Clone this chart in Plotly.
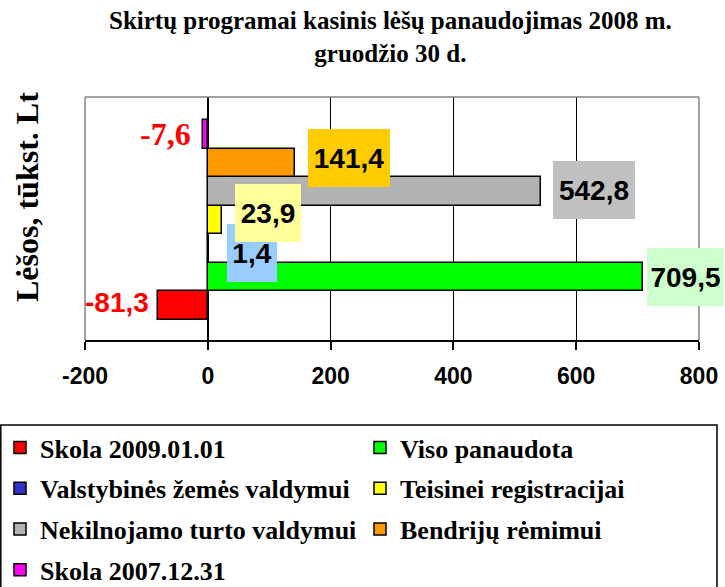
import plotly.graph_objects as go

series = ["Skola 2009.01.01", "Viso panaudota", "Valstybinės žemės valdymui",
          "Teisinei registracijai", "Nekilnojamo turto valdymui", "Bendrijų rėmimui",
          "Skola 2007.12.31"]
values = [-81.3, 709.5, 1.4, 23.9, 542.8, 141.4, -7.6]
labels = ["-81,3", "709,5", "1,4", "23,9", "542,8", "141,4", "-7,6"]
bar_colors = ["#FF0000", "#00FF00", "#3333CC", "#FFFF00", "#B2B2B2", "#FF9900", "#FF00FF"]
label_bg = [None, "#CCFFCC", "#99CCFF", "#FFFF99", "#C0C0C0", "#FFCC00", None]
legend_column = ["legend", "legend2", "legend", "legend2", "legend", "legend2", "legend"]
xticks = [-200, 0, 200, 400, 600, 800]

SERIF = "Liberation Serif"
SANS = "Liberation Sans"

# pixel layout helpers (plot area: x 85..699, y 97..340)
PL, PR, PT, PB = 85, 699, 97, 340
PW, PH = PR - PL, PB - PT


def px_x(p):
    return (p - PL) / PW


def px_y(p):
    return (PB - p) / PH


fig = go.Figure()
for name, v, c, lg in zip(series, values, bar_colors, legend_column):
    fig.add_trace(go.Bar(
        y=[name], x=[v], orientation="h", name=name,
        legend=lg, legendgroup=name,
        marker=dict(color=c, line=dict(color="black", width=1.5)),
        hoverinfo="skip",
    ))

label_geom = {
    "-81,3": dict(xshift=-8, yshift=3),
    "-7,6": dict(xshift=-11, yshift=0),
    "709,5": dict(xshift=4, yshift=0, w=77, h=58),
    "1,4": dict(xshift=18, yshift=-4, w=50, h=58),
    "23,9": dict(xshift=13, yshift=7, w=66, h=58),
    "542,8": dict(xshift=12, yshift=1, w=82, h=58),
    "141,4": dict(xshift=13, yshift=5, w=82, h=58),
}
ann = []
order = [0, 6, 1, 2, 3, 4, 5]
for i in order:
    lab = labels[i]
    g = label_geom[lab]
    if label_bg[i] is None:
        fnt = dict(family=SERIF if lab == "-7,6" else SANS,
                   size=32 if lab == "-7,6" else 28, color="#FF0000", weight="bold")
        ann.append(dict(x=values[i], y=series[i], xref="x", yref="y", text=lab,
                        showarrow=False, xanchor="right", yanchor="middle",
                        xshift=g["xshift"], yshift=g["yshift"], font=fnt, borderpad=0))
    else:
        ann.append(dict(x=values[i], y=series[i], xref="x", yref="y", text=lab,
                        showarrow=False, xanchor="left", yanchor="middle",
                        xshift=g["xshift"], yshift=g["yshift"],
                        width=g["w"], height=g["h"], bgcolor=label_bg[i],
                        borderpad=0, borderwidth=0, align="center", valign="middle",
                        font=dict(family=SANS, size=28, color="black", weight="bold")))

# chart title
ann.append(dict(text="Skirtų programai kasinis lėšų panaudojimas 2008 m.<br>gruodžio 30 d.",
                xref="paper", yref="paper", x=px_x(390), y=px_y(5),
                xanchor="center", yanchor="top", showarrow=False, align="center",
                font=dict(family=SERIF, size=25, color="black", weight="bold")))
# y-axis title
ann.append(dict(text="Lėšos, tūkst. Lt", xref="paper", yref="paper",
                x=px_x(27), y=px_y(197), xanchor="center", yanchor="middle",
                textangle=-90, showarrow=False,
                font=dict(family=SERIF, size=32, color="black", weight="bold")))

shapes = [
    dict(type="line", xref="paper", yref="paper", x0=0, x1=1, y0=1, y1=1,
         line=dict(color="#808080", width=1.5), layer="above"),
    dict(type="line", xref="paper", yref="paper", x0=0, x1=0, y0=0, y1=1,
         line=dict(color="#808080", width=1.5), layer="above"),
    dict(type="line", xref="paper", yref="paper", x0=1, x1=1, y0=0, y1=1,
         line=dict(color="#808080", width=1.5), layer="above"),
    # legend frame
    dict(type="rect", xref="paper", yref="paper",
         x0=px_x(0.8), x1=px_x(717), y0=px_y(620), y1=px_y(425),
         line=dict(color="black", width=1.5), layer="above"),
]

leg_common = dict(orientation="v", yanchor="top", xanchor="left",
                  traceorder="grouped", tracegroupgap=4,
                  font=dict(family=SERIF, size=26, color="black", weight="bold"),
                  bgcolor="rgba(0,0,0,0)", borderwidth=0, itemclick=False)

fig.update_layout(
    width=725, height=587,
    margin=dict(l=PL, r=725 - PR, t=PT, b=587 - PB, pad=0, autoexpand=False),
    paper_bgcolor="white", plot_bgcolor="white",
    barmode="group", bargap=0,
    showlegend=True,
    xaxis=dict(range=[-200, 800], tickvals=xticks, ticktext=[str(t) for t in xticks],
               showgrid=True, gridcolor="black", gridwidth=1,
               zeroline=True, zerolinecolor="black", zerolinewidth=2,
               showline=True, linecolor="black", linewidth=1.5,
               ticks="outside", ticklen=8, tickwidth=1.5, tickcolor="black",
               ticklabelstandoff=7,
               tickfont=dict(family=SANS, size=23, color="black", weight="bold"),
               fixedrange=True),
    yaxis=dict(type="category", categoryorder="array", categoryarray=series,
               range=[-1.2, 7.305], showticklabels=False, showgrid=False,
               zeroline=False, showline=False, ticks="", fixedrange=True),
    legend=dict(x=px_x(0), y=px_y(424), **leg_common),
    legend2=dict(x=px_x(360), y=px_y(424), **leg_common),
    annotations=ann,
    shapes=shapes,
)

fig.write_html("out.html", config={"displayModeBar": False},
               post_script="document.body.style.margin='0px';")
